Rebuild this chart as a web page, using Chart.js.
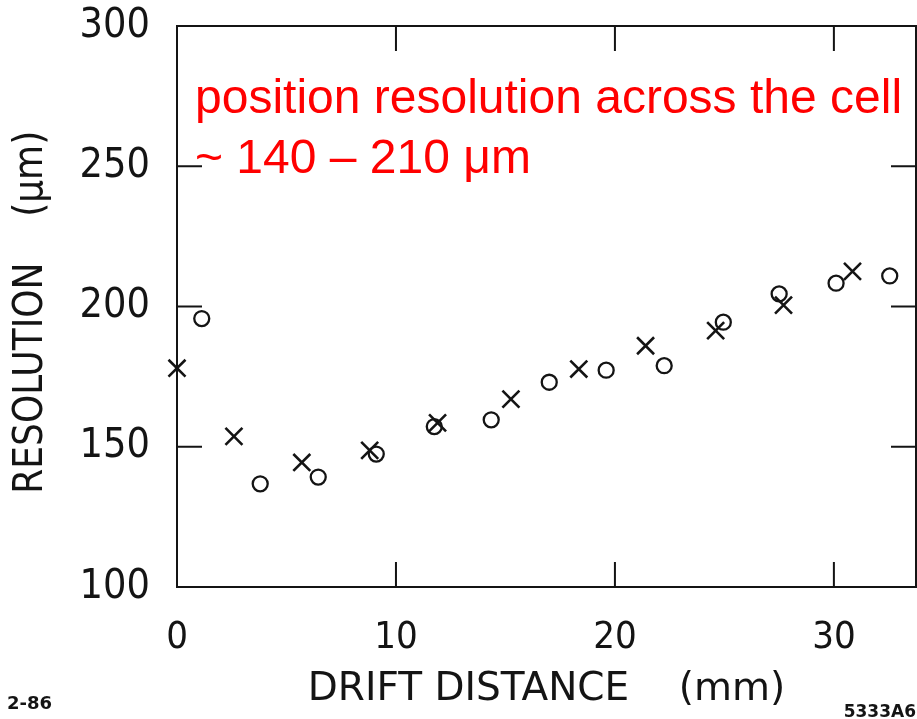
<!DOCTYPE html>
<html>
<head>
<meta charset="utf-8">
<script src="https://cdn.jsdelivr.net/npm/chart.js@4/dist/chart.umd.min.js"></script>
<style>
  html, body { margin: 0; padding: 0; background: #ffffff; }
  #wrap { width: 917px; height: 719px; position: relative; }
</style>
</head>
<body>
<div id="wrap"><canvas id="c"></canvas></div>
<script>
// ---- data ----
const crossX = [0.0, 2.6, 5.7, 8.8, 11.9, 15.25, 18.35, 21.4, 24.6, 27.7, 30.85];
const crossY = [178, 153.7, 144.4, 148.7, 158.5, 167, 177.7, 186, 191.4, 200.5, 212.5];
const circleX = [1.13, 3.8, 6.45, 9.1, 11.75, 14.35, 17.0, 19.6, 22.25, 24.95, 27.5, 30.1, 32.55];
const circleY = [195.7, 136.8, 139.2, 147.4, 157.2, 159.6, 173, 177.3, 178.9, 194.4, 204.5, 208.3, 210.9];
const xTicks = [0, 10, 20, 30];
const yTicks = [100, 150, 200, 250, 300];
const xTitle = 'DRIFT DISTANCE    (mm)';
const yTitle = 'RESOLUTION    (\u03bcm) ';
const noteLines = ['position resolution across the cell', '~ 140 \u2013 210 \u03bcm'];
const leftStamp = '2-86';
const rightStamp = '5333A6';

const toPts = (xs, ys) => xs.map((x, i) => ({x: x, y: ys[i]}));

const INK = '#141414';
const condensed = "'DejaVu Sans Condensed', 'DejaVu Sans', sans-serif";

const framePlugin = {
  id: 'frame',
  afterDatasetsDraw(chart) {
    const {ctx, chartArea: a, scales} = chart;
    const xs = scales.x, ys = scales.y;
    ctx.save();
    ctx.strokeStyle = INK;
    ctx.lineWidth = 2;
    ctx.strokeRect(a.left, a.top, a.right - a.left, a.bottom - a.top);
    const L = 25;
    ctx.beginPath();
    xTicks.forEach(v => {
      if (v <= xs.min || v >= xs.max) return;
      const p = xs.getPixelForValue(v);
      ctx.moveTo(p, a.bottom); ctx.lineTo(p, a.bottom - L);
      ctx.moveTo(p, a.top); ctx.lineTo(p, a.top + L);
    });
    yTicks.forEach(v => {
      if (v <= ys.min || v >= ys.max) return;
      const p = ys.getPixelForValue(v);
      ctx.moveTo(a.left, p); ctx.lineTo(a.left + L, p);
      ctx.moveTo(a.right, p); ctx.lineTo(a.right - L, p);
    });
    ctx.stroke();
    ctx.restore();
  },
  afterDraw(chart) {
    const {ctx, chartArea: a, width, height} = chart;
    ctx.save();
    ctx.fillStyle = '#ff0000';
    ctx.font = "48px 'Liberation Sans', Arial, sans-serif";
    ctx.textAlign = 'left';
    ctx.textBaseline = 'alphabetic';
    ctx.fillText(noteLines[0], a.left + 18, a.top + 87);
    ctx.fillText(noteLines[1], a.left + 18, a.top + 147);
    ctx.fillStyle = INK;
    ctx.font = "bold 18px 'DejaVu Sans', sans-serif";
    ctx.fillText(leftStamp, 7, height - 10);
    ctx.font = "bold 17px 'DejaVu Sans', sans-serif";
    ctx.textAlign = 'right';
    ctx.fillText(rightStamp, width - 1, height - 2);
    ctx.restore();
  }
};

new Chart(document.getElementById('c'), {
  type: 'scatter',
  data: {
    datasets: [
      {
        label: 'x',
        data: toPts(crossX, crossY),
        pointStyle: 'crossRot',
        pointRadius: 12,
        pointBorderWidth: 2.6,
        borderColor: INK,
        backgroundColor: INK,
        clip: false
      },
      {
        label: 'o',
        data: toPts(circleX, circleY),
        pointStyle: 'circle',
        pointRadius: 7.5,
        pointBorderWidth: 2.3,
        borderColor: INK,
        backgroundColor: 'rgba(0,0,0,0)',
        clip: false
      }
    ]
  },
  options: {
    responsive: true,
    maintainAspectRatio: false,
    animation: false,
    events: [],
    layout: { autoPadding: false, padding: { top: 26, right: 1, left: 0, bottom: 0 } },
    plugins: { legend: { display: false }, tooltip: { enabled: false } },
    scales: {
      x: {
        type: 'linear',
        min: 0,
        max: 33.75,
        afterBuildTicks: s => { s.ticks = xTicks.map(v => ({value: v})); },
        afterFit: s => { s.height = 132; s.paddingLeft = 0; s.paddingRight = 0; },
        grid: { display: false, drawTicks: false },
        border: { display: false },
        ticks: {
          padding: 28,
          color: INK,
          font: { family: condensed, size: 38 },
          callback: v => String(v),
          maxRotation: 0
        },
        title: {
          display: true,
          text: xTitle,
          color: INK,
          font: { family: "'DejaVu Sans', sans-serif", size: 39 },
          padding: { top: 0, bottom: 6 }
        }
      },
      y: {
        type: 'linear',
        min: 100,
        max: 300,
        afterBuildTicks: s => { s.ticks = yTicks.map(v => ({value: v})); },
        afterFit: s => { s.width = 177; s.paddingTop = 0; s.paddingBottom = 0; },
        grid: { display: false, drawTicks: false },
        border: { display: false },
        ticks: {
          padding: 27,
          color: INK,
          font: { family: condensed, size: 41 },
          callback: v => String(v)
        },
        title: {
          display: true,
          text: yTitle,
          color: INK,
          font: { family: condensed, size: 40 },
          padding: { top: 8, bottom: 0 }
        }
      }
    }
  },
  plugins: [framePlugin]
});
</script>
</body>
</html>
